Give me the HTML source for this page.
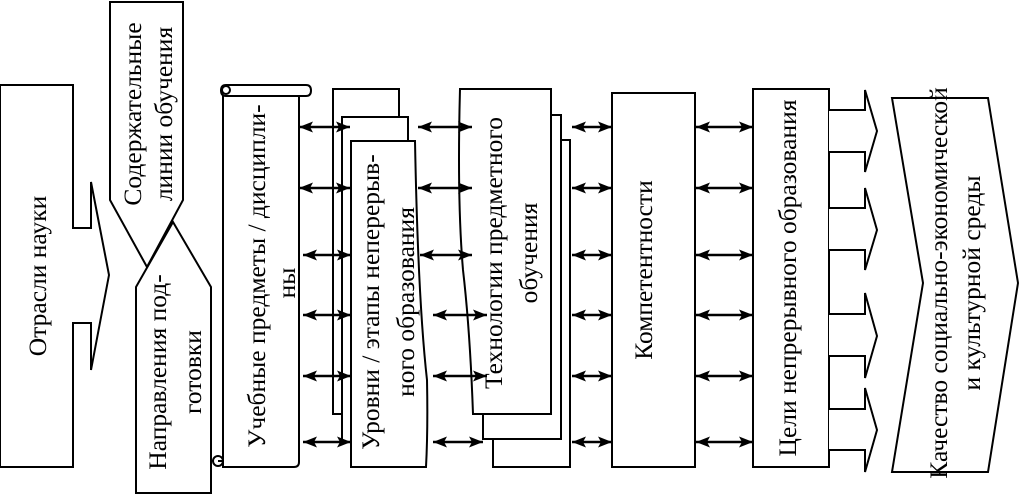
<!DOCTYPE html>
<html><head><meta charset="utf-8"><style>
html,body{margin:0;padding:0;background:#fff;}
svg{display:block}
text{font-family:"Liberation Serif","Times New Roman",serif;font-size:25.5px;fill:#000}
</style></head><body>
<svg width="1020" height="494" viewBox="0 0 1020 494" xmlns="http://www.w3.org/2000/svg">
<defs>
<marker id="ah" viewBox="0 0 14 11" refX="14" refY="5.5" markerWidth="14" markerHeight="11" markerUnits="userSpaceOnUse" orient="auto-start-reverse">
<path d="M0,0 L14,5.5 L0,11 L3,5.5 Z" fill="#000"/>
</marker>
</defs>
<g fill="#fff" stroke="#000" stroke-width="2" stroke-linejoin="miter">
<polygon points="0,85 73,85 73,228 91,228 91,182 109,275 91,370 91,323 73,323 73,467 0,467"/>
<polygon points="136,493 136,287 173,222 211,287 211,493"/>
<polygon points="110,2 183,2 183,200 147,267 110,200" fill="none"/>
<path d="M223,92 L223,467 L294,467 Q299,467 299,462 L299,96"/>
<path d="M226,85 L306,85 Q311,85 311,90.5 Q311,96 306,96 L226,96 Q221,96 221,90.5 Q221,85 226,85 Z"/>
<circle cx="226" cy="90" r="4" fill="none"/>
<circle cx="218" cy="461" r="5"/>
<path d="M218,461 L223,461" fill="none"/>
<rect x="333" y="89" width="66" height="325"/>
<rect x="342" y="117" width="66" height="325"/>
<path d="M351,141 L415,141 Q418,300 427,380 Q428,430 426,467 L351,467 Z"/>
<rect x="493" y="140" width="77" height="327"/>
<rect x="483" y="115" width="78" height="324"/>
<path d="M460,89 L551,89 L551,414 L473,414 Q470,330 463,270 Q457,200 460,89 Z"/>
<rect x="612" y="93" width="83" height="374"/>
<rect x="753" y="89" width="76" height="378"/>
<polyline points="829,110 865,110 865,90 877,131 865,172 865,152 829,152"/>
<polyline points="829,208 865,208 865,188 877,230 865,270 865,250 829,250"/>
<polyline points="829,314 865,314 865,293 877,336 865,378 865,356 829,356"/>
<polyline points="829,409 865,409 865,388 877,430 865,472 865,450 829,450"/>
<polygon points="892,98 988,98 1018,283 988,472 892,472 923,283"/>
</g>
<g stroke="#000" stroke-width="2.6" marker-start="url(#ah)" marker-end="url(#ah)">
<line x1="299" y1="127" x2="350" y2="127"/>
<line x1="299" y1="188" x2="350" y2="188"/>
<line x1="303" y1="255" x2="351" y2="255"/>
<line x1="303" y1="315" x2="351" y2="315"/>
<line x1="303" y1="376" x2="351" y2="376"/>
<line x1="303" y1="442" x2="351" y2="442"/>
<line x1="418" y1="127" x2="472" y2="127"/>
<line x1="418" y1="188" x2="472" y2="188"/>
<line x1="420" y1="255" x2="472" y2="255"/>
<line x1="433" y1="315" x2="487" y2="315"/>
<line x1="433" y1="376" x2="487" y2="376"/>
<line x1="433" y1="442" x2="483" y2="442"/>
<line x1="572" y1="127" x2="612" y2="127"/>
<line x1="572" y1="188" x2="612" y2="188"/>
<line x1="572" y1="255" x2="612" y2="255"/>
<line x1="572" y1="315" x2="612" y2="315"/>
<line x1="572" y1="376" x2="612" y2="376"/>
<line x1="572" y1="442" x2="612" y2="442"/>
<line x1="696" y1="127" x2="753" y2="127"/>
<line x1="696" y1="188" x2="753" y2="188"/>
<line x1="696" y1="255" x2="753" y2="255"/>
<line x1="696" y1="315" x2="753" y2="315"/>
<line x1="696" y1="376" x2="753" y2="376"/>
<line x1="696" y1="442" x2="753" y2="442"/>
</g>
<g text-anchor="middle">
<text transform="translate(46,276) rotate(-90)">Отрасли науки</text>
<text transform="translate(141,114) rotate(-90)">Содержательные</text>
<text transform="translate(172,114) rotate(-90)">линии обучения</text>
<text transform="translate(166,372) rotate(-90)">Направления под-</text>
<text transform="translate(201,372) rotate(-90)">готовки</text>
<text transform="translate(265,276) rotate(-90)">Учебные предметы / дисципли-</text>
<text transform="translate(295,283) rotate(-90)">ны</text>
<text transform="translate(379,302) rotate(-90)">Уровни / этапы неперерыв-</text>
<text transform="translate(414,302) rotate(-90)">ного образования</text>
<text transform="translate(502,253) rotate(-90)">Технологии предметного</text>
<text transform="translate(537,253) rotate(-90)">обучения</text>
<text transform="translate(652,270) rotate(-90)">Компетентности</text>
<text transform="translate(796,278) rotate(-90)">Цели непрерывного образования</text>
<text transform="translate(947,283) rotate(-90)">Качество социально-экономической</text>
<text transform="translate(980,283) rotate(-90)">и культурной среды</text>
</g>
</svg>
</body></html>
